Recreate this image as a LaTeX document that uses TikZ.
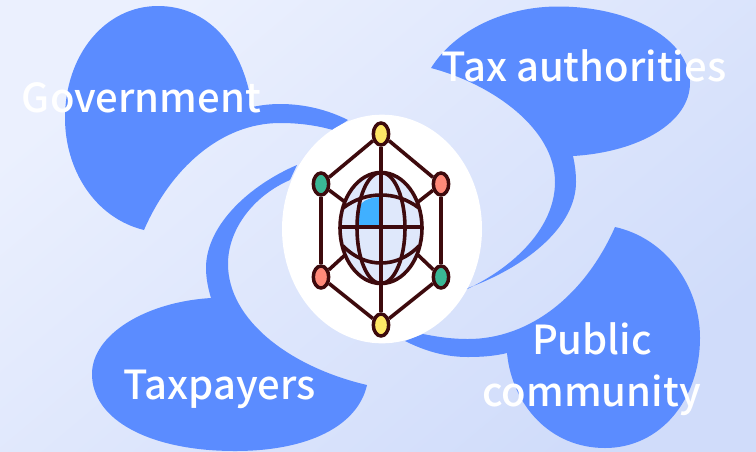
\documentclass[tikz,border=0pt]{standalone}
\usepackage{fontspec}
\setmainfont{Noto Sans CJK SC Medium}
\usetikzlibrary{shapes.geometric}
\definecolor{blob}{HTML}{5B8CFF}
\definecolor{ink}{HTML}{3D0A0D}
\definecolor{yel}{HTML}{FFE766}
\definecolor{grn}{HTML}{3AB795}
\definecolor{sal}{HTML}{FF8A7A}
\definecolor{sky}{HTML}{40B0FF}
\definecolor{pale}{HTML}{DFE8FB}
\definecolor{bgA}{HTML}{EBF0FE}
\definecolor{bgB}{HTML}{D8E2FC}
\definecolor{bgC}{HTML}{D0DCFA}
\tikzset{
  blobshape/.style={fill=blob,draw=none},
  label/.style={text=white,font=\fontsize{30pt}{36pt}\selectfont,anchor=base,inner sep=0pt},
  hub/.style={ellipse,draw=ink,line width=2.6pt,inner sep=0pt,minimum width=11.5pt,minimum height=16.5pt},
  link/.style={draw=ink,line width=2.7pt},
  thin link/.style={draw=ink,line width=2.3pt},
}
\begin{document}
\begin{tikzpicture}[x=0.75pt,y=-0.75pt]
\useasboundingbox (0,0) rectangle (756,451);
\shade[shading=axis,top color=bgA,middle color=bgB,bottom color=bgC,shading angle=40] (0,0) rectangle (756,451);
% blobs
\fill[blobshape] (144,230) .. controls (95,218) and (65,170) .. (65,118) .. controls (65,55) and (105,6) .. (158,6) .. controls (205,6) and (243,42) .. (252,107) .. controls (262,105) and (271,104) .. (280,104) .. controls (305,104) and (328,110) .. (348,120) -- (333,130) .. controls (315,125) and (298,123) .. (280,123) .. controls (220,123) and (170,170) .. (144,230) -- cycle;
\fill[blobshape] (431,68) .. controls (455,30) and (505,6.5) .. (558,6.5) .. controls (632,6.5) and (690,40) .. (690,83) .. controls (690,122) and (640,152) .. (573,156) .. controls (575,165) and (576,173) .. (576,182) .. controls (576,225) and (530,265) .. (468,288) -- (440,300) .. controls (500,280) and (555,235) .. (555,182) .. controls (555,130) and (495,85) .. (431,68) -- cycle;
\fill[blobshape] (615,227) .. controls (665,238) and (700,285) .. (700,338) .. controls (700,400) and (660,448) .. (605,448) .. controls (550,448) and (512,405) .. (507,353) .. controls (495,356) and (482,357) .. (468,357) .. controls (445,357) and (425,351) .. (405,341) -- (423,334) .. controls (438,337) and (452,339) .. (468,339) .. controls (530,339) and (585,295) .. (615,227) -- cycle;
\fill[blobshape] (367,385) .. controls (358,425) and (310,451) .. (235,451) .. controls (150,451) and (92,420) .. (92,374) .. controls (92,335) and (145,302) .. (211,298) .. controls (208,288) and (206,278) .. (206,268) .. controls (206,225) and (250,185) .. (297,165) -- (290,180) .. controls (255,195) and (228,228) .. (228,264) .. controls (228,320) and (290,367) .. (367,385) -- cycle;
% hub disc
\node[ellipse,fill=white,inner sep=0pt,minimum width=150pt,minimum height=171.5pt] (disc) at (382,229) {};
% globe
\node[ellipse,fill=pale,inner sep=0pt,minimum width=60pt,minimum height=82pt] (globe) at (381,228) {};
\fill[sky] (357,227) -- (381,227) -- (381,197) .. controls (372,197) and (364,200) .. (361,204) .. controls (358,212) and (357,220) .. (357,227) -- cycle;
\coordinate (sTL) at (345,202); \coordinate (sTR) at (418,202);
\coordinate (sBL) at (345,255); \coordinate (sBR) at (418,255);
\coordinate (gL) at (341,227); \coordinate (gR) at (421,227);
% icon hubs positions
\node[hub,fill=yel] (top) at (381,134) {};
\node[hub,fill=grn] (tl) at (321,184) {};
\node[hub,fill=sal] (tr) at (441,184) {};
\node[hub,fill=sal] (bl) at (321,277) {};
\node[hub,fill=grn] (br) at (441,277) {};
\node[hub,fill=yel] (bot) at (381,325) {};
% connectors
\draw[link] (top) -- (tl); \draw[link] (top) -- (tr);
\draw[link] (bot) -- (bl); \draw[link] (bot) -- (br);
\draw[thin link] (tl) -- (bl); \draw[thin link] (tr) -- (br);
\draw[link] (top) -- (bot);
\draw[link] (tl) -- (sTL); \draw[link] (tr) -- (sTR);
\draw[link] (bl) -- (sBL); \draw[link] (br) -- (sBR);
\draw[link] (gL) -- (gR);
\draw[link] (381,228) ellipse [x radius=41,y radius=55.5];
\draw[link] (381,228) ellipse [x radius=24,y radius=55.5];
\draw[link] (343,208) .. controls (355,199) and (368,195) .. (381,195) .. controls (394,195) and (407,199) .. (419,208);
\draw[link] (343,246) .. controls (355,258) and (368,263) .. (381,263) .. controls (394,263) and (407,258) .. (419,246);
% labels
\node[label] (gov) at (141.5,112) {Government};
\node[label] (tax) at (584,81) {Tax authorities};
\node[label] (pub) at (592,354) {Public};
\node[label] (com) at (591.5,406) {community};
\node[label] (pay) at (219.5,399) {Taxpayers};
\end{tikzpicture}
\end{document}
